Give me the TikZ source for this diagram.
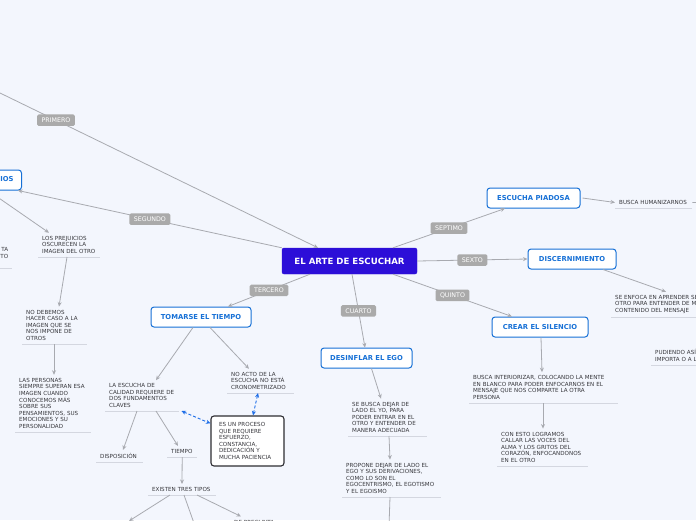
\documentclass[tikz,border=0pt]{standalone}
\usepackage{fontspec}
\setmainfont{DejaVu Sans}
\usetikzlibrary{arrows.meta}

\definecolor{mapback}{RGB}{243,246,253}
\definecolor{mapcentral}{RGB}{44,14,216}
\definecolor{mapblue}{RGB}{22,112,214}
\definecolor{mapline}{RGB}{168,170,176}
\definecolor{maptag}{RGB}{170,170,170}
\definecolor{maptext}{RGB}{55,55,60}
\definecolor{mapunder}{RGB}{212,215,224}
\definecolor{mapdash}{RGB}{30,110,232}
\definecolor{mapbox}{RGB}{45,45,50}

\tikzset{
  central/.style={fill=mapcentral, draw=mapcentral, text=white, rounded corners=2pt,
    font=\fontsize{8.6}{10}\selectfont\bfseries, minimum width=135pt, minimum height=26pt, inner sep=0pt},
  topic/.style={fill=white, draw=mapblue, line width=1pt, rounded corners=3pt, text=mapblue,
    font=\fontsize{6.8}{8}\selectfont\bfseries, minimum height=20pt, inner xsep=8pt, inner ysep=0pt},
  tag/.style={fill=maptag, text=white, rounded corners=1.5pt, font=\fontsize{6.3}{7}\selectfont,
    inner xsep=4.5pt, inner ysep=0pt, minimum height=11.5pt},
  leaf/.style={anchor=south west, text=maptext, font=\fontsize{5.6}{6.6}\selectfont, align=left,
    inner xsep=4pt, inner ysep=3.2pt,
    append after command={(\tikzlastnode.south west) edge[mapunder, line width=1pt] (\tikzlastnode.south east)}},
  procbox/.style={fill=white, draw=mapbox, line width=1.1pt, rounded corners=3pt, text=maptext,
    font=\fontsize{5.6}{6.6}\selectfont, align=left, text width=57pt, inner xsep=8pt, minimum height=50pt},
  conn/.style={draw=mapline, line width=0.8pt, -{Stealth[length=4.5pt,width=4pt]}},
  dashlink/.style={draw=mapdash, line width=0.9pt, dash pattern=on 3pt off 2pt,
    {Stealth[length=4.5pt,width=4pt]}-{Stealth[length=4.5pt,width=4pt]}}
}

\begin{document}
\begin{tikzpicture}[x=1pt, y=-1pt]
\useasboundingbox (0,0) rectangle (696,520);
\clip (0,0) rectangle (696,520);
\fill[mapback] (0,0) rectangle (696,520);

\node[central] (arte) at (349.5,261) {EL ARTE DE ESCUCHAR};

\node[topic, anchor=east] (prejuicios) at (22,180) {PREJUICIOS};
\node[topic, minimum width=100pt] (tomarse) at (201,317) {TOMARSE EL TIEMPO};
\node[topic, minimum width=91pt] (ego) at (366.5,358) {DESINFLAR EL EGO};
\node[topic, minimum width=96pt] (silencio) at (540,327) {CREAR EL SILENCIO};
\node[topic, minimum width=88pt] (discern) at (572,259) {DISCERNIMIENTO};
\node[topic, minimum width=93pt] (piadosa) at (533.5,198) {ESCUCHA PIADOSA};

\node[leaf, text width=54pt] (oscurecen) at (38,257) {LOS PREJUICIOS\\OSCURECEN LA\\IMAGEN DEL OTRO};
\node[leaf, text width=64pt, align=right] (recorte) at (-60,268) {TA\\TO\\~};
\node[leaf, text width=57pt] (debemos) at (22,344) {NO DEBEMOS\\HACER CASO A LA\\IMAGEN QUE SE\\NOS IMPONE DE\\OTROS};
\node[leaf, text width=68pt] (superan) at (15,432) {LAS PERSONAS\\SIEMPRE SUPERAN ESA\\IMAGEN CUANDO\\CONOCEMOS MÁS\\SOBRE SUS\\PENSAMIENTOS, SUS\\EMOCIONES Y SU\\PERSONALIDAD};
\node[leaf, text width=66pt] (calidad) at (105,411) {LA ESCUCHA DE\\CALIDAD REQUIERE DE\\DOS FUNDAMENTOS\\CLAVES};
\node[leaf, text width=59pt] (cronometro) at (227,393) {NO ACTO DE LA\\ESCUCHA NO ESTÁ\\CRONOMETRIZADO};
\node[leaf, text width=39pt] (disposicion) at (96,462) {DISPOSICIÓN};
\node[leaf, text width=22pt] (tiempo) at (167,457) {TIEMPO};
\node[leaf, text width=60pt] (tipos) at (148,495) {EXISTEN TRES TIPOS};
\node[leaf, text width=60pt] (pregunta) at (230,527.5) {DE PREGUNTA};
\node[procbox] (proceso) at (247.5,441) {ES UN PROCESO\\QUE REQUIERE\\ESFUERZO,\\CONSTANCIA,\\DEDICACIÓN Y\\MUCHA PACIENCIA};
\node[leaf, text width=71pt] (dejaryo) at (348,436) {SE BUSCA DEJAR DE\\LADO EL YO, PARA\\PODER ENTRAR EN EL\\OTRO Y ENTENDER DE\\MANERA ADECUADA};
\node[leaf, text width=91pt] (propone) at (342,497) {PROPONE DEJAR DE LADO EL\\EGO Y SUS DERIVACIONES,\\COMO LO SON EL\\EGOCENTRISMO, EL EGOTISMO\\Y EL EGOISMO};
\node[leaf, text width=141pt] (interiorizar) at (469,403) {BUSCA INTERIORIZAR, COLOCANDO LA MENTE\\EN BLANCO PARA PODER ENFOCARNOS EN EL\\MENSAJE QUE NOS COMPARTE LA OTRA\\PERSONA};
\node[leaf, text width=83pt] (logramos) at (497,466) {CON ESTO LOGRAMOS\\CALLAR LAS VOCES DEL\\ALMA Y LOS GRITOS DEL\\CORAZÓN, ENFOCANDONOS\\EN EL OTRO};
\node[leaf, text width=92pt] (enfoca) at (611,317) {SE ENFOCA EN APRENDER SE\\OTRO PARA ENTENDER DE MA\\CONTENIDO DEL MENSAJE};
\node[leaf, text width=52pt] (pudiendo) at (651,365) {PUDIENDO ASÍ\\IMPORTA O A L};
\node[leaf, text width=69pt] (humanizar) at (615,208) {BUSCA HUMANIZARNOS};

\coordinate (primero-start) at (0,93);
\coordinate (tipo-uno) at (129,521);
\coordinate (tipo-dos) at (195,526);
\coordinate (propone-next) at (389,526);
\coordinate (humanizar-next) at (710,203);

\draw[conn] (primero-start) -- node[tag, pos=0.176] (primero) {PRIMERO} ([xshift=-31.5pt]arte.north);
\draw[conn] (arte.north west) -- node[tag] (segundo) {SEGUNDO} ([xshift=-4pt]prejuicios.south east);
\draw[conn] ([xshift=-39.5pt]arte.south) -- node[tag] (tercero) {TERCERO} ([xshift=27pt]tomarse.north);
\draw[conn] ([xshift=2.5pt]arte.south) -- node[tag] (cuarto) {CUARTO} ([xshift=-1.5pt]ego.north);
\draw[conn] ([xshift=43.5pt]arte.south) -- node[tag] (quinto) {QUINTO} ([xshift=-28pt]silencio.north);
\draw[conn] (arte.east) -- node[tag] (sexto) {SEXTO} (discern.west);
\draw[conn] ([xshift=43.5pt]arte.north) -- node[tag] (septimo) {SEPTIMO} ([xshift=-28.5pt]piadosa.south);

\draw[conn] ([xshift=-34pt]prejuicios.south east) -- ([xshift=11pt]oscurecen.north west);
\draw[conn] ([xshift=29pt]oscurecen.south west) -- ([xshift=37pt]debemos.north west);
\draw[conn] ([xshift=32pt]debemos.south west) -- ([xshift=39pt]superan.north west);

\draw[conn] ([xshift=-8pt]tomarse.south) -- ([xshift=51pt]calidad.north west);
\draw[conn] ([xshift=9pt]tomarse.south) -- ([xshift=22pt]cronometro.north west);
\draw[conn] ([xshift=32pt]calidad.south west) -- ([xshift=27pt]disposicion.north west);
\draw[conn] ([xshift=51pt]calidad.south west) -- ([xshift=11pt]tiempo.north west);
\draw[conn] (tiempo.south) -- ([xshift=34pt]tipos.north west);
\draw[conn] ([xshift=22pt]tipos.south west) -- (tipo-uno);
\draw[conn] ([xshift=36pt]tipos.south west) -- (tipo-dos);
\draw[conn] ([xshift=49pt]tipos.south west) -- ([xshift=11pt]pregunta.north west);
\draw[dashlink] ([xshift=2pt]calidad.south east) -- ([yshift=-8pt]proceso.north west);
\draw[dashlink] ([xshift=31pt]cronometro.south west) -- ([xshift=5.5pt]proceso.north);

\draw[conn] ([xshift=5pt]ego.south) -- ([xshift=33pt]dejaryo.north west);
\draw[conn] ([xshift=41pt]dejaryo.south west) -- ([xshift=48pt]propone.north west);
\draw[conn] ([xshift=48pt]propone.south west) -- (propone-next);

\draw[conn] ([xshift=1pt]silencio.south) -- ([xshift=73pt]interiorizar.north west);
\draw[conn] ([xshift=74pt]interiorizar.south west) -- ([xshift=46pt]logramos.north west);
\draw[conn] ([xshift=31pt]discern.south) -- ([xshift=55pt]enfoca.north west);
\draw[conn] ([xshift=2pt]piadosa.east) -- (humanizar.west);
\draw[conn] (humanizar.east) -- (humanizar-next);
\end{tikzpicture}
\end{document}
